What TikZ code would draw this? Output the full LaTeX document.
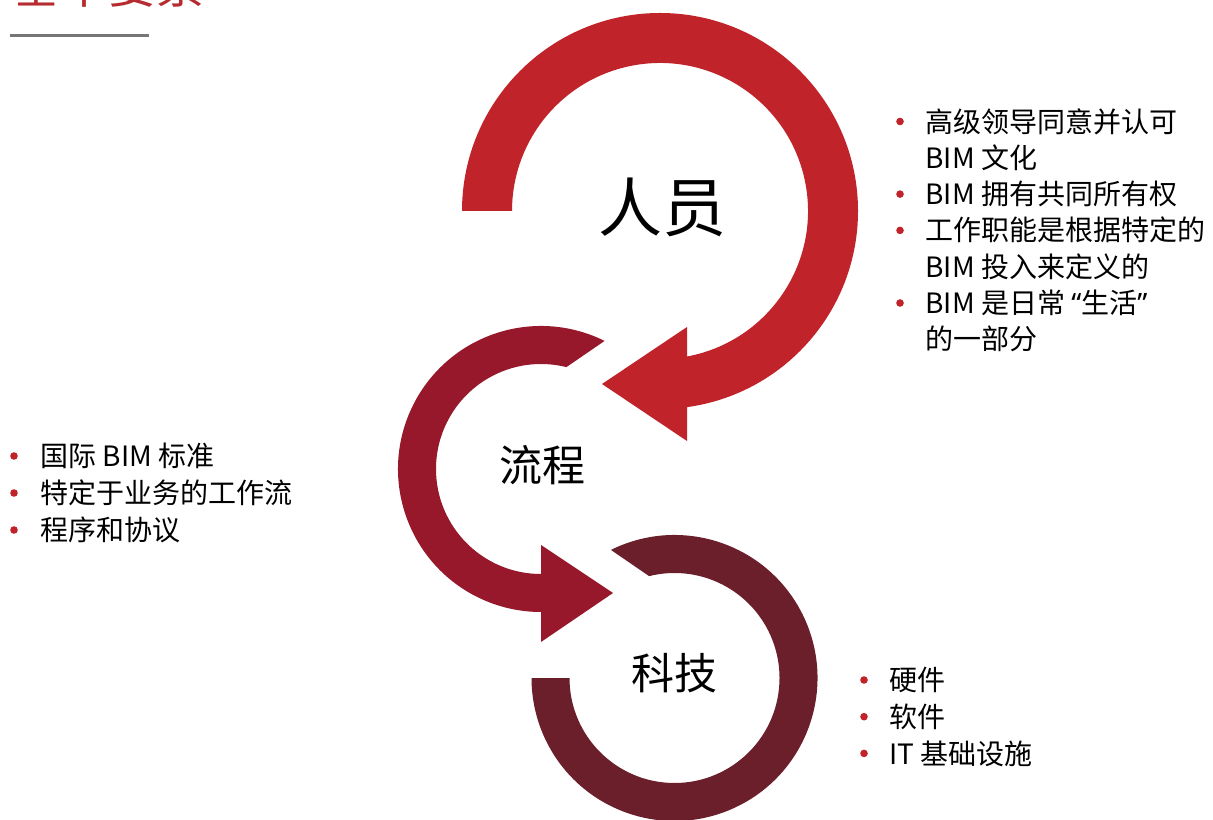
\documentclass[tikz,border=0pt]{standalone}
\usepackage{fontspec}
\setmainfont{Noto Sans CJK SC}
\newfontfamily\latinq{Noto Sans}
\definecolor{renred}{HTML}{C0232A}
\definecolor{liured}{HTML}{96182A}
\definecolor{kejired}{HTML}{6A1F2A}
\definecolor{titlered}{HTML}{B52B30}
\definecolor{rulegray}{HTML}{767676}
\tikzset{
  item/.style={anchor=west,inner sep=0pt,font=\fontsize{14}{16}\selectfont,text height=12.3pt,text depth=1.7pt},
  dot/.style={circle,fill=renred,inner sep=0pt,minimum size=3.8pt},
  hub/.style={inner sep=0pt,font=\fontsize{#1}{#1}\selectfont}
}
\begin{document}
\begin{tikzpicture}[x=0.5pt,y=0.5pt]
\useasboundingbox(0,0)rectangle(1213,819);
\clip(0,0)rectangle(1213,819);
\node[anchor=base west,inner sep=0pt,text=titlered,font=\fontsize{24}{28}\selectfont](title)at(12,815){基本要素};
\draw[line width=1.5pt,color=rulegray](10,783)--(149,783);
\fill[renred](660,608)++(180:198)arc[start angle=180,end angle=-82.16,radius=198]
  --(687,378)--(602,435)--(687,492)--(687,462.5)arc[start angle=-79.49,end angle=180,radius=148]--cycle;
\fill[liured](541,350)++(63.6:143)arc[start angle=63.6,end angle=270,radius=143]
  --(541,177)--(613,226)--(541,274)--(541,245)arc[start angle=270,end angle=76,radius=105]--cycle;
\fill[kejired](674.5,141)++(116.4:143)arc[start angle=116.4,end angle=-180,radius=143]
  --++(38,0)arc[start angle=-180,end angle=104,radius=105]--cycle;
\node[hub=32](renyuan)at(662,612){人员};
\node[hub=21.5](liucheng)at(542.5,354){流程};
\node[hub=21.5](keji)at(674.5,146){科技};
\foreach \t [count=\i from 0] in {高级领导同意并认可,BIM 文化,BIM 拥有共同所有权,工作职能是根据特定的,BIM 投入来定义的,BIM 是日常 {\latinq“}生活{\latinq”},的一部分}
  \node[item](r\i)at(925,{697.5-36.3*\i}){\t};
\foreach \i in {0,2,3,5}
  \node[dot](rb\i)at(900,{697.5-36.3*\i}){};
\foreach \t [count=\i from 0] in {国际 BIM 标准,特定于业务的工作流,程序和协议}{
  \node[item](l\i)at(40,{363-37*\i}){\t};
  \node[dot](lb\i)at(14,{363-37*\i}){};
}
\foreach \t [count=\i from 0] in {硬件,软件,IT 基础设施}{
  \node[item](k\i)at(889,{139-36.7*\i}){\t};
  \node[dot](kb\i)at(864,{139-36.7*\i}){};
}
\end{tikzpicture}
\end{document}
